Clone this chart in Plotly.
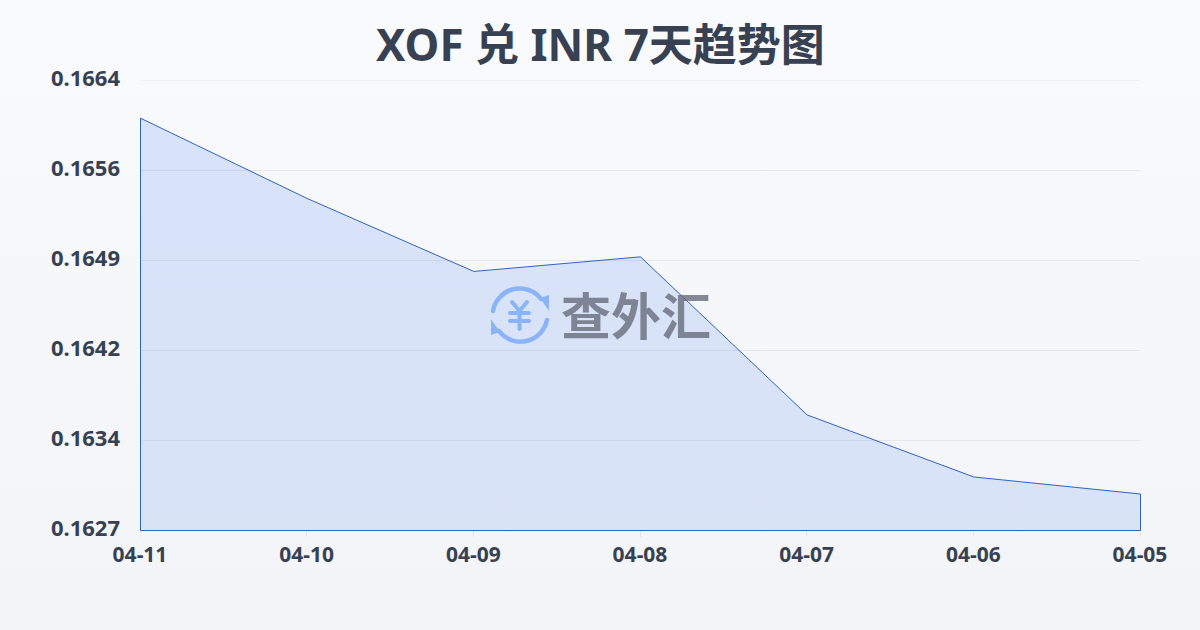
import base64
import plotly.graph_objects as go

dates = ["04-11", "04-10", "04-09", "04-08", "04-07", "04-06", "04-05"]
rates = [0.16609, 0.16543, 0.16483, 0.16495, 0.16365, 0.16314, 0.16300]
y_ticks = [0.1627, 0.16344, 0.16418, 0.16492, 0.16566, 0.1664]
y_labels = ["0.1627", "0.1634", "0.1642", "0.1649", "0.1656", "0.1664"]
title_text = "XOF 兑 INR 7天趋势图"
brand = "查外汇"

y_min, y_max = y_ticks[0], y_ticks[-1]


def data_uri(svg):
    return "data:image/svg+xml;base64," + base64.b64encode(svg.encode()).decode()


bg_svg = (
    '<svg xmlns="http://www.w3.org/2000/svg" width="1200" height="630" preserveAspectRatio="none">'
    '<defs><linearGradient id="g" x1="0" y1="0" x2="0" y2="1">'
    '<stop offset="0" stop-color="#f9fafc"/><stop offset="1" stop-color="#f2f4f7"/>'
    '</linearGradient></defs><rect width="1200" height="630" fill="url(#g)"/></svg>'
)

logo_svg = (
    '<svg xmlns="http://www.w3.org/2000/svg" width="60" height="60" viewBox="0 0 60 60">'
    '<g fill="none" stroke="#8ab4f8" stroke-linecap="round">'
    '<path d="M3 26 A27 27 0 0 1 51 14" stroke-width="4.5"/>'
    '<path d="M57 35 A27 27 0 0 1 9 46" stroke-width="4.5"/>'
    '<path d="M22 17 L29.5 26 L37 17 M20 28 H39 M20 36 H39 M29.5 26 V44" stroke-width="4"/>'
    '</g>'
    '<path d="M50 13 L59 10 L59 26 Z" fill="#8ab4f8"/>'
    '<path d="M10 47 L1 50 L1 34 Z" fill="#8ab4f8"/>'
    '</svg>'
)

fig = go.Figure()
fig.add_trace(go.Scatter(
    x=dates + [dates[-1], dates[0], dates[0]],
    y=rates + [y_min, y_min, rates[0]],
    mode="lines",
    fill="toself",
    fillgradient=dict(
        type="vertical",
        colorscale=[[0, "rgba(37,99,235,0.125)"], [1, "rgba(37,99,235,0.15)"]],
    ),
    line=dict(color="#2f62c8", width=1),
    cliponaxis=False,
    hoverinfo="skip",
    showlegend=False,
))

fig.update_layout(
    width=1200, height=630,
    autosize=False,
    margin=dict(l=140, r=60, t=80, b=100),
    paper_bgcolor="#f5f7fa",
    plot_bgcolor="rgba(0,0,0,0)",
    font=dict(family="Noto Sans, Noto Sans CJK SC", color="#374151"),
    xaxis=dict(
        type="category", categoryorder="array", categoryarray=dates,
        range=[0, len(dates) - 1],
        showgrid=False, zeroline=False, showline=False,
        ticks="outside", ticklen=6, tickcolor="#e5e7eb", tickwidth=1,
        tickfont=dict(size=21, family="Noto Sans", weight="bold", color="#374151"),
        automargin=False,
    ),
    yaxis=dict(
        range=[y_min, y_max],
        tickmode="array", tickvals=y_ticks, ticktext=y_labels,
        showgrid=True, gridcolor="#e5e7eb", gridwidth=1, zeroline=False, showline=False,
        ticks="", ticklabelstandoff=19, ticklabelshift=-2,
        tickfont=dict(size=22, family="Noto Sans", weight="bold", color="#374151"),
        automargin=False,
    ),
    shapes=[
        dict(type="line", xref="paper", yref="y", x0=0, x1=1, y0=y_max, y1=y_max,
             line=dict(color="#e5e7eb", width=1), layer="below"),
    ],
    images=[
        dict(source=data_uri(bg_svg), xref="paper", yref="paper", x=-0.14, y=1 + 80 / 450,
             sizex=1.2, sizey=1.4, xanchor="left", yanchor="top", sizing="stretch", layer="below"),
        dict(source=data_uri(logo_svg), xref="paper", yref="paper",
             x=(490 - 140) / 1000, y=(530 - 285) / 450,
             sizex=60 / 1000, sizey=60 / 450, xanchor="left", yanchor="top", sizing="stretch", layer="above"),
    ],
    annotations=[
        dict(text=title_text, xref="paper", yref="paper", x=0.46, y=(530 - 44) / 450,
             xanchor="center", yanchor="middle", showarrow=False,
             font=dict(size=44, family="Noto Sans, Noto Sans CJK SC", weight="bold", color="#374151")),
        dict(text=brand, xref="paper", yref="paper", x=(636 - 140) / 1000, y=(530 - 313) / 450,
             xanchor="center", yanchor="middle", showarrow=False,
             font=dict(size=50, family="Noto Sans CJK SC", weight="bold", color="rgba(95,100,115,0.75)")),
    ],
)

fig.write_html(
    "out.html",
    config={"displayModeBar": False},
    post_script=(
        "document.body.style.margin='0';document.documentElement.style.overflow='hidden';"
        "document.querySelectorAll('.cartesianlayer [clip-path], .cartesianlayer .plot').forEach(function(n){"
        "n.removeAttribute('clip-path');n.style.clipPath='none';});"
        "document.querySelectorAll('.scatterlayer .trace').forEach(function(t){"
        "t.style.transform='translate(0.5px,0.5px)';});"
    ),
)
